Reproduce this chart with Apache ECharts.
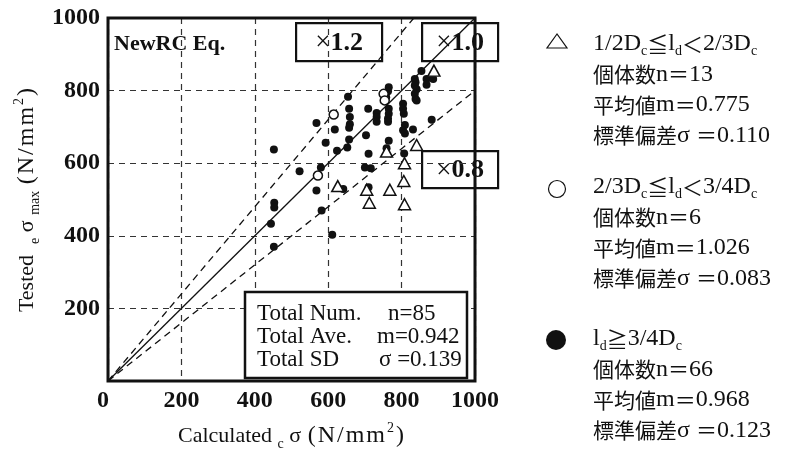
<!DOCTYPE html>
<html><head><meta charset="utf-8">
<script src="https://cdn.jsdelivr.net/npm/echarts@6/dist/echarts.min.js"></script>
<style>html,body{margin:0;padding:0;background:#fff}#c{width:791px;height:456px}</style>
</head><body><div id="c"></div>
<script>
// Axis range and ticks (N/mm2)
const axisMin = 0, axisMax = 1000, tickStep = 200;

// Ratio lines: tested / calculated
const ratioLines = [1.2, 1.0, 0.8];

// 1/2Dc <= ld < 2/3Dc  (triangles)  [calculated, tested]
const groupShort = [
  [888,855],[841,650],[759,632],[808,600],[806,551],[808,487],
  [768,527],[705,527],[712,491],[626,537]
];

// 2/3Dc <= ld < 3/4Dc  (open circles)
const groupMid = [
  [615,734],[751,791],[754,773],[572,566]
];

// ld >= 3/4Dc  (filled circles)
const groupLong = [
  [854,854],[836,832],[838,823],[836,814],[841,804],[836,791],[838,777],[841,773],[868,832],[868,816],[886,832],
  [765,809],[763,798],[758,782],
  [654,783],[657,750],[709,750],[568,711],[659,727],[659,707],[657,698],[618,693],[593,656],[657,665],[624,634],[652,643],[703,677],[710,626],[452,638],
  [732,738],[732,727],[732,714],[765,750],[765,736],[763,723],[763,714],
  [804,764],[804,750],[806,736],[809,705],[804,691],[809,682],[831,693],[882,720],
  [765,662],[759,641],[807,627],
  [522,578],[580,588],[700,588],[716,586],[568,525],[641,529],[710,534],
  [453,491],[453,478],[444,433],[582,470],[611,403],[452,370]
];

// Summary statistics
const totalStats = [['Total Num.', 'n=85'], ['Total Ave.', 'm=0.942'], ['Total SD', 'σ =0.139']];
const groupStats = [
  { n: '13', m: '0.775', s: '0.110' },
  { n: '6',  m: '1.026', s: '0.083' },
  { n: '66', m: '0.968', s: '0.123' }
];

const SERIF = "'Liberation Serif','Times New Roman',serif";
const JP = "'Noto Sans CJK JP',serif";
const INK = '#111';

const chart = echarts.init(document.getElementById('c'), null, { renderer: 'canvas' });

const dashed = [6, 5];

function ratioSeries(r) {
  const xEnd = Math.min(axisMax, axisMax / r);
  return {
    type: 'line', data: [[axisMin, axisMin], [xEnd, xEnd * r]],
    symbol: 'none', silent: true, z: 2,
    lineStyle: { color: INK, width: 1.3, type: r === 1 ? 'solid' : [7, 5], opacity: 1 }
  };
}

const richAxis = {
  t: { fontFamily: SERIF, fontSize: 22, color: INK, lineHeight: 30 },
  u: { fontFamily: SERIF, fontSize: 24, color: INK, lineHeight: 30, padding: [0, 1, 0, 1] },
  s: { fontFamily: SERIF, fontSize: 14, color: INK, lineHeight: 30, verticalAlign: 'bottom' },
  p: { fontFamily: SERIF, fontSize: 14, color: INK, lineHeight: 30, verticalAlign: 'top', padding: [0, 1, 0, 1] }
};
const unitText = '{u|(}{u|N}{u|/}{u|m}{u|m}{p|2}{u|)}';

// Legend text: Latin parts in serif, Japanese parts in CJK font
const legendRich = {
  a: { fontFamily: SERIF, fontSize: 24, fill: INK, lineHeight: 28 },
  j: { fontFamily: JP, fontSize: 21, fill: INK, lineHeight: 28 },
  s: { fontFamily: SERIF, fontSize: 14, fill: INK, lineHeight: 28, verticalAlign: 'bottom' }
};

function legendBlock(y0, head, st) {
  const lines = [
    head,
    '{j|個体数}{a|n}{j|＝}{a|' + st.n + '}',
    '{j|平均値}{a|m}{j|＝}{a|' + st.m + '}',
    '{j|標準偏差}{a|σ }{j|＝}{a|' + st.s + '}'
  ];
  return lines.map((t, i) => ({
    type: 'text', left: 593, top: y0 + i * 30.5 - 13, z: 20,
    style: { text: t, rich: legendRich, fill: INK }
  }));
}

function ratioBox(x, y, w, h, label) {
  return {
    type: 'group', left: x, top: y, z: 30,
    children: [
      { type: 'rect', shape: { x: 0, y: 0, width: w, height: h }, style: { fill: '#fff', stroke: INK, lineWidth: 2.2 } },
      { type: 'text', x: w / 2, y: h / 2 + 1, style: {
          text: '{x|×}{b|' + label + '}', align: 'center', verticalAlign: 'middle',
          rich: {
            x: { fontFamily: SERIF, fontSize: 27, fill: INK },
            b: { fontFamily: SERIF, fontSize: 26, fontWeight: 'bold', fill: INK }
          } } }
    ]
  };
}

const graphics = [
  { type: 'text', left: 114, top: 33, z: 20,
    style: { text: 'NewRC Eq.', fontFamily: SERIF, fontSize: 22, fontWeight: 'bold', fill: INK } },
  ratioBox(295, 22, 86, 38, '1.2'),
  ratioBox(421, 22, 76, 38, '1.0'),
  ratioBox(421, 150, 76, 37, '0.8'),
  { type: 'rect', z: 30, shape: { x: 245, y: 292, width: 222, height: 86 },
    style: { fill: '#fff', stroke: INK, lineWidth: 2.5 } }
];
totalStats.forEach((row, i) => {
  graphics.push({ type: 'text', left: 257, top: 302 + i * 23, z: 40,
    style: { text: row[0], fontFamily: SERIF, fontSize: 23, fill: INK } });
  graphics.push({ type: 'text', left: [388, 377, 379][i], top: 302 + i * 23, z: 40,
    style: { text: row[1], fontFamily: SERIF, fontSize: 23, fill: INK } });
});

// Legend markers
graphics.push(
  { type: 'polygon', z: 20, shape: { points: [[557, 34], [547, 48], [567, 48]] },
    style: { fill: 'none', stroke: INK, lineWidth: 1.2 } },
  { type: 'circle', z: 20, shape: { cx: 557, cy: 189, r: 8.5 },
    style: { fill: 'none', stroke: INK, lineWidth: 1.2 } },
  { type: 'circle', z: 20, shape: { cx: 556, cy: 340, r: 10 },
    style: { fill: INK } }
);
graphics.push(...legendBlock(45, '{a|1/2D}{s|c}{j|≦}{a|l}{s|d}{j|＜}{a|2/3D}{s|c}', groupStats[0]));
graphics.push(...legendBlock(188, '{a|2/3D}{s|c}{j|≦}{a|l}{s|d}{j|＜}{a|3/4D}{s|c}', groupStats[1]));
graphics.push(...legendBlock(340, '{a|l}{s|d}{j|≧}{a|3/4D}{s|c}', groupStats[2]));

const option = {
  animation: false,
  backgroundColor: '#fff',
  grid: { left: 108, top: 18, width: 367, height: 367, show: true, borderColor: INK, borderWidth: 3, backgroundColor: 'transparent', z: 5 },
  xAxis: {
    type: 'value', min: axisMin, max: axisMax, interval: tickStep,
    axisLine: { show: false }, axisTick: { show: false },
    splitLine: { show: true, lineStyle: { color: '#333', width: 1.2, type: dashed } },
    axisLabel: {
      margin: 8, fontFamily: SERIF, fontSize: 24, fontWeight: 'bold', color: INK,
      formatter: v => v === 0 ? '{z|0}' : String(v),
      rich: { z: { fontFamily: SERIF, fontSize: 24, fontWeight: 'bold', color: INK, padding: [0, 10, 0, 0] } }
    },
    name: '{t|Calculated }{s|c}{t| σ }' + unitText,
    nameLocation: 'middle', nameGap: 40,
    nameTextStyle: { rich: richAxis }
  },
  yAxis: {
    type: 'value', min: axisMin, max: axisMax, interval: tickStep,
    axisLine: { show: false }, axisTick: { show: false },
    splitLine: { show: true, lineStyle: { color: '#333', width: 1.2, type: dashed } },
    axisLabel: {
      margin: 8, fontFamily: SERIF, fontSize: 24, fontWeight: 'bold', color: INK,
      padding: [0, 0, 6, 0],
      formatter: v => v === 0 ? '' : String(v)
    },
    name: '{t|Tested  }{s|e}{t| σ }{s|max}{t| }' + unitText,
    nameLocation: 'middle', nameGap: 66, nameRotate: 90,
    nameTextStyle: { rich: richAxis }
  },
  series: [
    ...ratioLines.map(ratioSeries),
    { type: 'scatter', data: groupLong, symbol: 'circle', symbolSize: 8, z: 3,
      itemStyle: { color: INK, opacity: 1 } },
    { type: 'scatter', data: groupMid, symbol: 'circle', symbolSize: 9, z: 4,
      itemStyle: { color: '#fff', borderColor: INK, borderWidth: 1.5, opacity: 1 } },
    { type: 'scatter', data: groupShort, symbol: 'triangle', symbolSize: [12, 11], z: 4,
      itemStyle: { color: '#fff', borderColor: INK, borderWidth: 1.5, opacity: 1 } }
  ],
  graphic: graphics
};
chart.setOption(option);
</script></body></html>
